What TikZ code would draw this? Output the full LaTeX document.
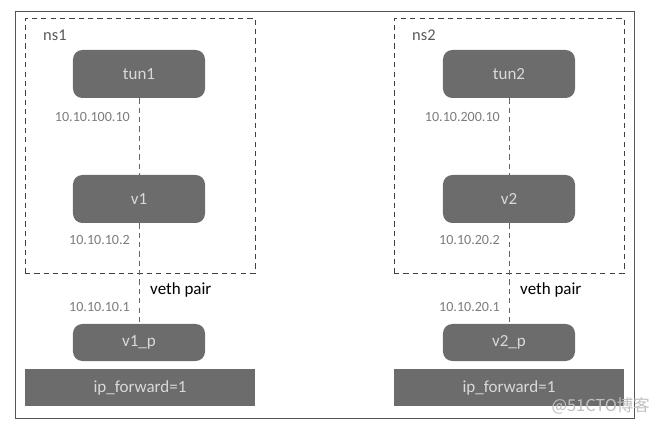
\documentclass[tikz,border=0pt]{standalone}
\usepackage{fontspec}
\setmainfont{Carlito}
\newfontfamily\cjkfont{Noto Sans CJK SC}
\usetikzlibrary{positioning}
\definecolor{ifacegray}{HTML}{6C6C6C}
\definecolor{addrgray}{HTML}{7C7C7C}
\definecolor{framegray}{HTML}{555555}
\tikzstyle{iface} = [rectangle, rounded corners=8pt, fill=ifacegray, text=white!85!black, inner sep=0pt, minimum width=3.96cm, minimum height=1.44cm, font=\fontsize{14.5}{17}\selectfont]
\tikzstyle{ifacesmall} = [iface, minimum height=1.11cm]
\tikzstyle{fwdbar} = [rectangle, fill=ifacegray, text=white!85!black, inner sep=0pt, minimum width=6.9cm, minimum height=1.11cm, font=\fontsize{14.5}{17}\selectfont]
\tikzstyle{nsbox} = [rectangle, draw=black!75, thick, dash pattern=on 4.5pt off 3.5pt, inner sep=0pt, minimum width=6.9cm, minimum height=7.65cm]
\tikzstyle{addr} = [text=addrgray, inner sep=0pt, font=\fontsize{12}{14}\selectfont]
\tikzstyle{vethline} = [draw=black!60, dash pattern=on 4.5pt off 3.5pt]

\begin{document}
\begin{tikzpicture}[x=0.03cm, y=-0.03cm]
	\useasboundingbox (0,0) rectangle (660,426);
	\draw [framegray, line width=0.8pt] (15,11) rectangle (634,418);
	% left side
	\node (ns1) [nsbox] at (140,145.5) {};
	\node (ns1lbl) [anchor=west, inner sep=0pt, text=black!65, font=\fontsize{14}{16}\selectfont] at (43,35) {ns1};
	\node (tun1) [iface] at (139,74) {tun1};
	\node (v1) [iface] at (139,199) {v1};
	\node (v1p) [ifacesmall] at (139,342.5) {v1\_p};
	\node (fwd1) [fwdbar] at (140,387.5) {ip\_forward=1};
	\draw [vethline] (tun1) -- (v1);
	\draw [vethline] (v1) -- (v1p);
	\node (a100) [addr, anchor=east] at (130,117) {10.10.100.10};
	\node (a102) [addr, anchor=east] at (130,240) {10.10.10.2};
	\node (a101) [addr, anchor=east] at (130,307) {10.10.10.1};
	\node (veth1) [anchor=west, inner sep=0pt, font=\fontsize{14.5}{17}\selectfont] at (150,290) {veth pair};
	% right side
	\node (ns2) [nsbox] at (509,145.5) {};
	\node (ns2lbl) [anchor=west, inner sep=0pt, text=black!65, font=\fontsize{14}{16}\selectfont] at (412,35) {ns2};
	\node (tun2) [iface] at (509,74) {tun2};
	\node (v2) [iface] at (509,199) {v2};
	\node (v2p) [ifacesmall] at (509,342.5) {v2\_p};
	\node (fwd2) [fwdbar] at (509,387.5) {ip\_forward=1};
	\draw [vethline] (tun2) -- (v2);
	\draw [vethline] (v2) -- (v2p);
	\node (a200) [addr, anchor=east] at (500,117) {10.10.200.10};
	\node (a202) [addr, anchor=east] at (500,240) {10.10.20.2};
	\node (a201) [addr, anchor=east] at (500,307) {10.10.20.1};
	\node (veth2) [anchor=west, inner sep=0pt, font=\fontsize{14.5}{17}\selectfont] at (520,290) {veth pair};
	% watermark
	\node (mark) [anchor=east, inner sep=0pt, text=black!25, font=\cjkfont\fontsize{14}{16}\selectfont] at (650,406) {@51CTO博客};
\end{tikzpicture}
\end{document}
